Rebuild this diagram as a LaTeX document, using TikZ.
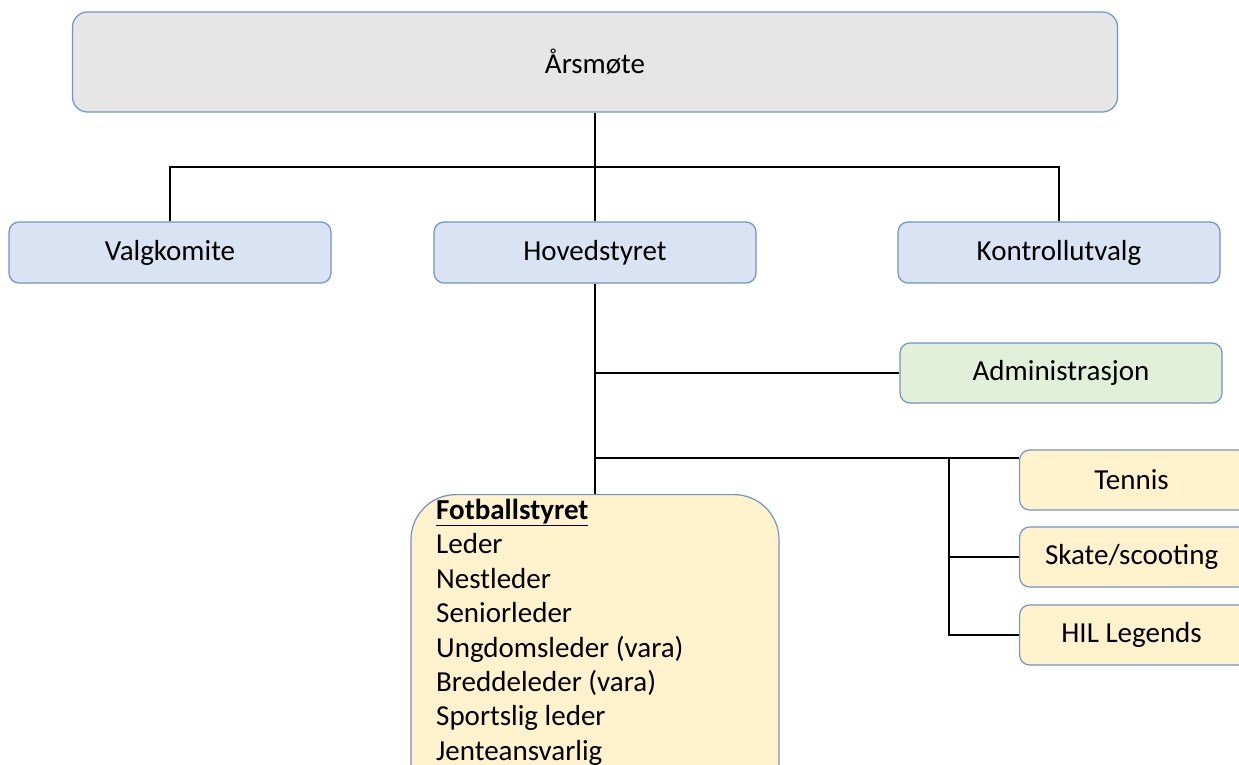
\documentclass[tikz,border=0pt]{standalone}
\usepackage{fontspec}
\setmainfont{Carlito}
\definecolor{bordc}{RGB}{114,147,200}
\definecolor{greyf}{RGB}{231,230,230}
\definecolor{bluef}{RGB}{218,227,243}
\definecolor{greenf}{RGB}{226,240,217}
\definecolor{yellowf}{RGB}{255,242,204}
\tikzset{
  box/.style={draw=bordc, line width=1.2pt, rounded corners=10pt, minimum height=61pt, inner sep=0pt, font=\fontsize{29}{34}\selectfont},
  bluebox/.style={box, fill=bluef, minimum width=322pt},
  conn/.style={line width=2.2pt, black},
}
\begin{document}
\begin{tikzpicture}[x=1pt, y=-1pt]
\clip (0,0) rectangle (1239,765);
\fill[white] (0,0) rectangle (1239,765);
\node[box, fill=greyf, rounded corners=15pt, minimum width=1045pt, minimum height=100pt] (aars) at (595,62) {Årsmøte};
\node[bluebox] (valg) at (170,252.5) {Valgkomite};
\node[bluebox] (hoved) at (595,252.5) {Hovedstyret};
\node[bluebox] (kontroll) at (1059,252.5) {Kontrollutvalg};
\node[box, fill=greenf, minimum width=322pt, minimum height=60pt] (admin) at (1061,373) {Administrasjon};
\node[box, fill=yellowf, minimum width=240pt, minimum height=60pt, anchor=west] (tennis) at (1019,480) {\hspace*{-16pt}Tennis};
\node[box, fill=yellowf, minimum width=240pt, minimum height=60pt, anchor=west] (skate) at (1019,557) {\hspace*{-16pt}Skate/scooting};
\node[box, fill=yellowf, minimum width=240pt, minimum height=60pt, anchor=west] (hil) at (1019,635) {\hspace*{-16pt}HIL Legends};
\node[draw=bordc, line width=1.2pt, fill=yellowf, rounded corners=45pt, minimum width=368pt, minimum height=340pt, anchor=north] (fotball) at (595,494) {};
\node[anchor=north west, align=left, inner sep=0pt, font=\fontsize{29}{34.4}\selectfont] (fotballtext) at (436,499) {\underline{\textbf{Fotballstyret}}\\Leder\\Nestleder\\Seniorleder\\Ungdomsleder (vara)\\Breddeleder (vara)\\Sportslig leder\\Jenteansvarlig};
\coordinate (j1) at (595,167);
\coordinate (j2) at (595,373);
\coordinate (j3) at (595,458);
\coordinate (j4) at (949,458);
\draw[conn] (aars.south) -- (hoved.north);
\draw[conn] (valg.north) |- (j1) -| (kontroll.north);
\draw[conn] (hoved.south) -- (fotball.north);
\draw[conn] (j2) -- (admin.west);
\draw[conn] (j3) -- (tennis.west |- j3);
\draw[conn] (j4) |- (hil.west);
\draw[conn] (j4 |- skate.west) -- (skate.west);
\end{tikzpicture}
\end{document}
